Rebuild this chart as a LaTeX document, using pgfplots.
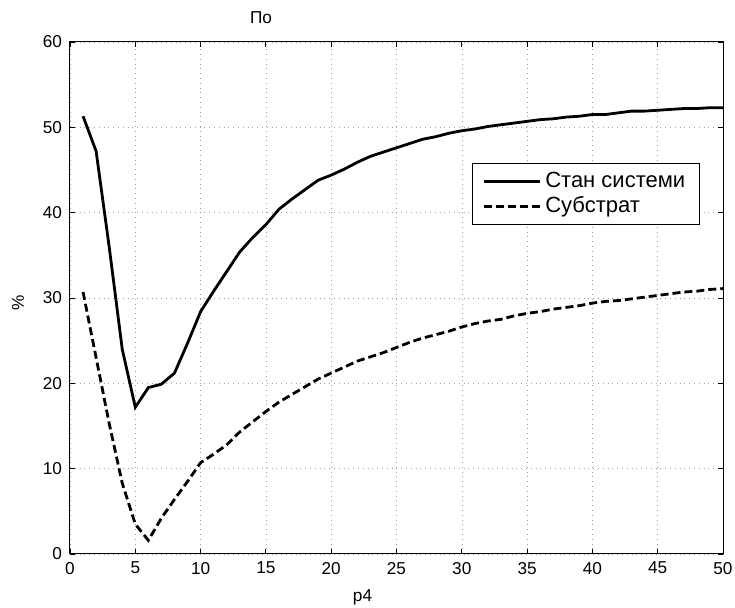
\documentclass[border=0pt]{standalone}
\usepackage{fontspec}
\setmainfont{Liberation Sans}
\usepackage{pgfplots}
\pgfplotsset{compat=1.18}
\begin{document}
\begin{tikzpicture}
\path[use as bounding box] (-35pt,-27pt) rectangle (332.5pt,277pt);
\begin{axis}[
  at={(0,0)}, anchor=south west,
  scale only axis, width=326.5pt, height=256pt,
  xmin=0, xmax=50, ymin=0, ymax=60,
  xtick={0,5,...,50}, ytick={0,10,...,60},
  /pgf/number format/assume math mode=true,
  tick label style={font=\fontsize{8.6pt}{10pt}\selectfont},
  label style={font=\fontsize{8.6pt}{10pt}\selectfont},
  xticklabel style={yshift=-0.5pt},
  yticklabel style={xshift=-0.5pt},
  tick align=inside, major tick length=2.5pt,
  tick style={black, line width=0.4pt},
  axis line style={line width=0.5pt},
  grid=major,
  major grid style={gray!75, dotted, line width=0.3pt},
  xlabel={p4}, ylabel={\%},
  xlabel style={at={(axis description cs:0.448,0)}, anchor=center, yshift=-21.5pt},
  ylabel style={at={(axis description cs:0,0.49)}, anchor=center, yshift=26pt},
  legend style={at={(rel axis cs:0.6156,0.7637)}, anchor=north west,
    font=\fontsize{11pt}{12pt}\selectfont, draw=black, line width=0.5pt,
    inner xsep=5pt, inner ysep=2.5pt, row sep=-1pt},
  legend cell align=left,
  legend image code/.code={\draw[#1] (0pt,0pt) -- (28pt,0pt);},
]
\addplot[black, line width=1.4pt] coordinates {
(1,51.3)(2,47.2)(3,36)(4,24)(5,17.2)(6,19.5)(7,19.9)(8,21.2)(9,24.7)(10,28.4)
(11,30.8)(12,33.1)(13,35.4)(14,37.1)(15,38.6)(16,40.4)(17,41.6)(18,42.7)(19,43.8)(20,44.4)
(21,45.1)(22,45.9)(23,46.6)(24,47.1)(25,47.6)(26,48.1)(27,48.6)(28,48.9)(29,49.3)(30,49.6)
(31,49.8)(32,50.1)(33,50.3)(34,50.5)(35,50.7)(36,50.9)(37,51.0)(38,51.2)(39,51.3)(40,51.5)
(41,51.5)(42,51.7)(43,51.9)(44,51.9)(45,52.0)(46,52.1)(47,52.2)(48,52.2)(49,52.3)(50,52.3)
};
\addlegendentry{Стан системи}
\addplot[black, line width=1.4pt, dash pattern=on 4pt off 2pt] coordinates {
(1,30.7)(2,23)(3,15.3)(4,8.3)(5,3.5)(6,1.6)(7,4.2)(8,6.4)(9,8.5)(10,10.7)
(11,11.7)(12,12.8)(13,14.3)(14,15.5)(15,16.7)(16,17.8)(17,18.7)(18,19.6)(19,20.5)(20,21.2)
(21,21.9)(22,22.6)(23,23.1)(24,23.6)(25,24.2)(26,24.8)(27,25.3)(28,25.7)(29,26.1)(30,26.6)
(31,27.0)(32,27.3)(33,27.5)(34,27.9)(35,28.2)(36,28.4)(37,28.7)(38,28.9)(39,29.1)(40,29.4)
(41,29.6)(42,29.7)(43,29.9)(44,30.1)(45,30.3)(46,30.5)(47,30.7)(48,30.8)(49,31.0)(50,31.1)
};
\addlegendentry{Субстрат}
\end{axis}
\node[font=\fontsize{8.6pt}{10pt}\selectfont] at (95.5pt,268pt) {По};
\end{tikzpicture}
\end{document}
